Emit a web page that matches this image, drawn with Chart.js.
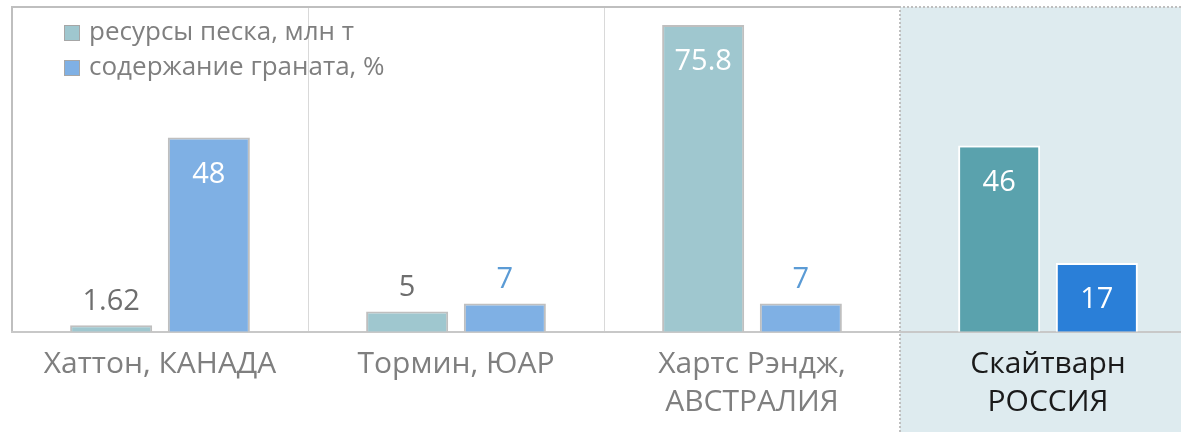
<!DOCTYPE html>
<html>
<head>
<meta charset="utf-8">
<script src="https://cdn.jsdelivr.net/npm/chart.js@4.4.1/dist/chart.umd.min.js"></script>
<style>
  html, body { margin: 0; padding: 0; background: #fff; overflow: hidden; }
  #wrap { width: 1196px; height: 432px; position: relative; }
</style>
</head>
<body>
<div id="wrap"><canvas id="myChart"></canvas></div>
<script>
// данные
const categories = [['Хаттон, КАНАДА'], ['Тормин, ЮАР'], ['Хартс Рэндж,', 'АВСТРАЛИЯ'], ['Скайтварн', 'РОССИЯ']];
const seriesNames = ['ресурсы песка, млн т', 'содержание граната, %'];
const sandResources = [1.62, 5, 75.8, 46];
const garnetContent = [48, 7, 7, 17];
const valueLabels = [['1.62', '5', '75.8', '46'], ['48', '7', '7', '17']];
const highlightIndex = 3; // Россия

const FONT = '"Open Sans", "Noto Sans", sans-serif';
const colors = [
    { normal: '#9fc7cf', hi: '#5aa2ad' },
    { normal: '#7fb0e4', hi: '#2a7fd8' },
];

// фон и рамка для выделенной категории
const highlightPlugin = {
    id: 'highlight',
    beforeDraw(chart) {
        const { ctx, chartArea, scales: { x } } = chart;
        const half = (x.getPixelForValue(1) - x.getPixelForValue(0)) / 2;
        const left = Math.round(x.getPixelForValue(highlightIndex) - half);
        const top = chartArea.top - 1;
        ctx.save();
        ctx.fillStyle = '#deebef';
        ctx.fillRect(left, top, chart.width - left, chart.height - top);
        ctx.strokeStyle = '#bfbfbf';
        ctx.lineWidth = 2;
        ctx.beginPath();
        ctx.moveTo(chartArea.left, chartArea.bottom);
        ctx.lineTo(chartArea.left, top);
        ctx.lineTo(left, top);
        ctx.stroke();
        ctx.setLineDash([2, 2]);
        ctx.beginPath();
        ctx.moveTo(left, chart.height);
        ctx.lineTo(left, top);
        ctx.lineTo(chart.width, top);
        ctx.stroke();
        ctx.restore();
    }
};

// подписи значений и легенда
const labelsPlugin = {
    id: 'labels',
    afterDatasetsDraw(chart) {
        const { ctx, chartArea } = chart;
        ctx.save();
        ctx.font = '29px ' + FONT;
        ctx.textAlign = 'center';
        ctx.textBaseline = 'middle';
        chart.data.datasets.forEach((ds, di) => {
            chart.getDatasetMeta(di).data.forEach((bar, i) => {
                const inside = bar.base - bar.y > 50;
                ctx.fillStyle = inside ? '#ffffff' : (di === 0 ? '#6e6e6e' : '#5b9bd5');
                ctx.fillText(valueLabels[di][i], bar.x, inside ? bar.y + 37 : bar.y - 24);
            });
        });

        // легенда
        ctx.textAlign = 'left';
        ctx.font = '26px ' + FONT;
        seriesNames.forEach((name, di) => {
            const y = chartArea.top + 25 + di * 35;
            ctx.fillStyle = colors[di].normal;
            ctx.fillRect(chartArea.left + 52, y - 8, 16, 16);
            ctx.strokeStyle = '#a6a6a6';
            ctx.lineWidth = 1;
            ctx.strokeRect(chartArea.left + 52.5, y - 7.5, 15, 15);
            ctx.fillStyle = '#7f7f7f';
            ctx.fillText(name, chartArea.left + 77, y);
        });
        ctx.restore();
    }
};

const data = {
    labels: categories,
    datasets: [sandResources, garnetContent].map((values, di) => ({
        label: seriesNames[di],
        data: values,
        backgroundColor: values.map((v, i) => i === highlightIndex ? colors[di].hi : colors[di].normal),
        borderColor: values.map((v, i) => i === highlightIndex ? '#ffffff' : '#bfbfbf'),
        borderWidth: 2,
        categoryPercentage: 0.66,
        barPercentage: 0.84,
    })),
};

const config = {
    type: 'bar',
    data: data,
    options: {
        responsive: true,
        maintainAspectRatio: false,
        animation: false,
        layout: { padding: { left: 12, top: 8, right: 0, bottom: -4 } },
        plugins: {
            legend: { display: false },
            tooltip: { enabled: false },
        },
        scales: {
            x: {
                offset: true,
                grid: {
                    offset: true,
                    drawTicks: false,
                    color: (c) => (c.index === 1 || c.index === 2) ? '#d9d9d9' : 'rgba(0,0,0,0)',
                    lineWidth: 1,
                },
                border: { color: '#c8c8c8', width: 2 },
                ticks: {
                    padding: 14,
                    font: { family: FONT, size: 30, lineHeight: 1.27 },
                    color: (c) => c.index === highlightIndex ? '#1a1a1a' : '#7f7f7f',
                },
            },
            y: { display: false, min: 0, max: 80 },
        },
    },
    plugins: [highlightPlugin, labelsPlugin],
};

var ctx = document.getElementById('myChart').getContext('2d');
var myChart = new Chart(ctx, config);
</script>
</body>
</html>
